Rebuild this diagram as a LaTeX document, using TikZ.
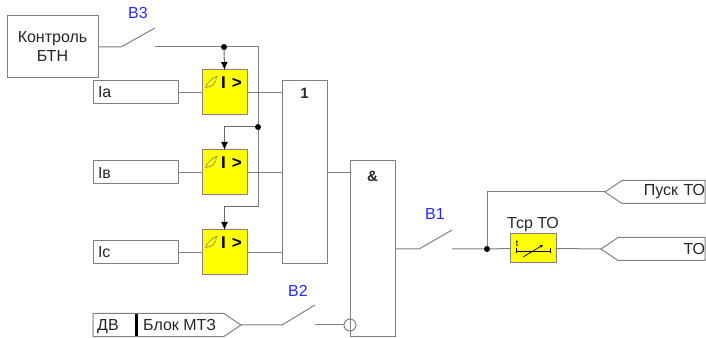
\documentclass[tikz,border=0pt]{standalone}
\usepackage{fontspec}
\setmainfont{Liberation Sans}
\usetikzlibrary{positioning,arrows.meta,shapes.symbols}

\definecolor{wire}{HTML}{808080}
\definecolor{relayfill}{HTML}{FFFF00}
\definecolor{switchlabel}{HTML}{2A2AFF}
\definecolor{ink}{HTML}{262626}

\tikzset{
  wirepath/.style={draw=wire, line width=1pt},
  labeltext/.style={text=ink, font=\fontsize{16}{19}\selectfont},
  infobox/.style={wirepath, rectangle, outer sep=0pt, inner sep=0pt, labeltext},
  inputbox/.style={infobox, minimum width=85pt, minimum height=23pt, text width=75pt, align=left},
  relaybox/.style={wirepath, rectangle, fill=relayfill, outer sep=0pt, minimum width=45pt, minimum height=45pt},
  gatebox/.style={wirepath, rectangle, outer sep=0pt, minimum width=45pt},
  gatetext/.style={text=ink, font=\bfseries\fontsize{15}{18}\selectfont},
  outflag/.style={infobox, signal, signal to=west, signal from=nowhere, signal pointer angle=68, minimum height=23pt, align=right},
  swlabel/.style={text=switchlabel, font=\fontsize{16}{19}\selectfont},
  dot/.style={circle, fill=black, inner sep=0pt, minimum size=6pt},
  feed/.style={wirepath, draw=ink!70, -{Latex[length=8pt,width=7pt,color=black]}},
  pics/relaysign/.style={code={
    \draw[draw=wire!60!olive, line width=.6pt] (-19,5) .. controls (-16,13) and (-11,14) .. (-8,16)
      .. controls (-8,10) and (-12,5) .. (-19,5);
    \node[text=black, font=\bfseries\fontsize{17}{17}\selectfont, inner sep=0pt] (#1) at (7,10) {I\hspace{6pt}>};
  }}
}

\begin{document}
\begin{tikzpicture}[x=1pt, y=1pt]
  \useasboundingbox (0,0) rectangle (706,337);

  % Define nodes
  \node[infobox, minimum width=91pt, minimum height=62pt, align=center] (ctrl) at (52.5,290) {Контроль\\БТН};
  \node[inputbox, anchor=north west] (ia) at (93,256) {Iа};
  \node[inputbox, below=57pt of ia] (ib) {Iв};
  \node[inputbox, below=57pt of ib] (ic) {Iс};

  \node[relaybox, right=24pt of ia] (ra) {};
  \node[relaybox, right=24pt of ib] (rb) {};
  \node[relaybox, right=24pt of ic] (rc) {};
  \pic at (ra.center) {relaysign=signa};
  \pic at (rb.center) {relaysign=signb};
  \pic at (rc.center) {relaysign=signc};

  \node[gatebox, minimum height=183pt, anchor=north west] (orgate) at (282,256) {};
  \node[gatetext, below=4pt of orgate.north] (ortext) {1};
  \node[gatebox, minimum height=175pt, anchor=north west] (andgate) at (350,176) {};
  \node[gatetext, below=7pt of andgate.north] (andtext) {\&};

  \node[infobox, signal, signal to=east, signal from=nowhere, signal pointer angle=68, minimum height=23pt, minimum width=148pt, anchor=west] (dv) at (93,12) {};
  \node[labeltext, inner sep=0pt, anchor=base west] (dvtext) at (97,6.5) {ДВ};
  \node[labeltext, inner sep=0pt, anchor=base west] (blocktext) at (143,6.5) {Блок МТЗ};
  \fill[black] (134.5,1) rectangle (137.5,23);
  \node[circle, wirepath, minimum size=12pt, inner sep=0pt] (inv) at (350,12) {};

  \node[outflag, minimum width=99pt, anchor=east, text width=83pt] (pusk) at (705,145) {Пуск ТО};
  \node[outflag, minimum width=103pt, anchor=east, text width=87pt] (to) at (705,88) {ТО};
  \node[relaybox, minimum width=46pt, minimum height=29pt] (delay) at (533,88.5) {};
  \node[above=1pt of delay, labeltext, inner sep=1pt] (delaytext) {Тср ТО};
  \draw[black, line width=.7pt] (516,86) -- (550,86) (516,83.5) -- (516,88.5) (550,83.5) -- (550,88.5);
  \draw[black, line width=.7pt, -{Stealth[length=3pt,width=3pt]}] (523,80) -- (543,92);
  \node[font=\fontsize{9}{9}\selectfont, text=black, inner sep=0pt] (delayt) at (517,93) {t};

  \coordinate (b3a) at (121,290);
  \coordinate (b3b) at (155,309);
  \coordinate (b3c) at (155,290);
  \coordinate (b2a) at (282,12);
  \coordinate (b2b) at (315,32);
  \coordinate (b2c) at (315,12);
  \coordinate (b1a) at (419,88);
  \coordinate (b1b) at (452,107);
  \coordinate (b1c) at (452,88);
  \coordinate (railend) at (258,130);

  \node[swlabel] (b3text) at (138,324) {В3};
  \node[swlabel] (b2text) at (298,46) {В2};
  \node[swlabel] (b1text) at (435,123) {В1};

  \node[dot] (d1) at (224,290) {};
  \node[dot] (d2) at (258,210) {};
  \node[dot] (d3) at (487,88) {};

  % Connect the nodes
  \draw[wirepath] (ctrl.east) -- (b3a) -- (b3b);
  \draw[wirepath] (b3c) -- (d1) -| (d2) -- (railend);
  \draw[feed] (d1) -- (ra.north);
  \draw[feed] (d2) -| (rb.north);
  \draw[feed] (railend) -| (rc.north);

  \draw[wirepath] (ia) -- (ra);
  \draw[wirepath] (ib) -- (rb);
  \draw[wirepath] (ic) -- (rc);
  \draw[wirepath] (ra.east) -- (ra.east -| orgate.west);
  \draw[wirepath] (rb.east) -- (rb.east -| orgate.west);
  \draw[wirepath] (rc.east) -- (rc.east -| orgate.west);
  \draw[wirepath] (orgate.east |- rb.east) -- (rb.east -| andgate.west);

  \draw[wirepath] (dv.east) -- (b2a) -- (b2b);
  \draw[wirepath] (b2c) -- (inv.west);
  \draw[wirepath] (andgate.east |- b1a) -- (b1a) -- (b1b);
  \draw[wirepath] (b1c) -- (d3) -- (delay.west);
  \draw[wirepath] (d3) |- (pusk.west);
  \draw[wirepath] (delay.east) -- (to.west);

\end{tikzpicture}
\end{document}
